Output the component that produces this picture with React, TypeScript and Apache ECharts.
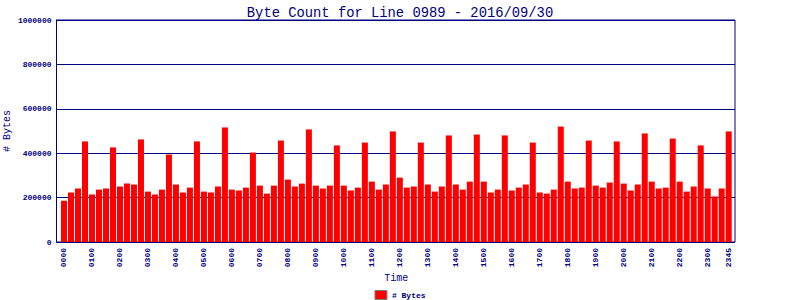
import React, { useEffect, useRef } from "react";
import * as echarts from "echarts";

const times: string[] = [];
for (let h = 0; h < 24; h++) {
  for (const m of ["00", "15", "30", "45"]) {
    times.push(String(h).padStart(2, "0") + m);
  }
}

const bytes: number[] = [
  186000, 223000, 241000, 453000, 214000, 236000, 241000, 426000,
  250000, 263000, 259000, 462000, 227000, 214000, 236000, 394000,
  259000, 223000, 245000, 453000, 227000, 223000, 250000, 516000,
  236000, 232000, 245000, 403000, 254000, 218000, 254000, 457000,
  281000, 250000, 263000, 507000, 254000, 241000, 254000, 435000,
  254000, 232000, 245000, 448000, 272000, 236000, 259000, 498000,
  290000, 245000, 250000, 448000, 259000, 227000, 250000, 480000,
  259000, 236000, 272000, 484000, 272000, 223000, 236000, 480000,
  232000, 245000, 259000, 448000, 223000, 218000, 236000, 520000,
  272000, 241000, 245000, 457000, 254000, 245000, 268000, 453000,
  263000, 232000, 259000, 489000, 272000, 241000, 245000, 466000,
  272000, 227000, 250000, 435000, 241000, 205000, 241000, 498000,
];

const yTicks = [0, 200000, 400000, 600000, 800000, 1000000];

const NAVY = "#000080";
const MONO = "'Liberation Mono', 'DejaVu Sans Mono', monospace";

export default function App() {
  const ref = useRef<HTMLDivElement>(null);
  useEffect(() => {
    if (!ref.current) return;
    const chart = echarts.init(ref.current, null, { renderer: "svg" });
    chart.setOption({
      animation: false,
      backgroundColor: "#ffffff",
      title: {
        text: "Byte Count for Line 0989 - 2016/09/30",
        left: "center",
        top: 1,
        textStyle: { color: NAVY, fontFamily: MONO, fontSize: 13.8, fontWeight: "normal" },
      },
      legend: {
        top: 290,
        left: "center",
        padding: 0,
        itemWidth: 12,
        itemHeight: 9,
        itemGap: 4,
        data: [{ name: "# Bytes", icon: "rect" }],
        itemStyle: { borderColor: "#808080", borderWidth: 1 },
        textStyle: { color: NAVY, fontFamily: MONO, fontSize: 8, fontWeight: "bold" },
      },
      grid: [
        {
          left: 56.5,
          right: 65,
          top: 20,
          bottom: 58,
          containLabel: false,
          outerBoundsMode: "none",
          show: true,
          borderColor: NAVY,
          borderWidth: 1,
          backgroundColor: "transparent",
        },
        {
          left: 60.5,
          width: 671.7,
          top: 20,
          bottom: 58,
          containLabel: false,
          outerBoundsMode: "none",
        },
      ],
      xAxis: [
        {
          gridIndex: 0,
          type: "value",
          min: 0,
          max: 1,
          show: false,
        },
        {
          gridIndex: 1,
          type: "category",
          data: times,
          name: "Time",
          nameLocation: "middle",
          nameGap: 31,
          nameMoveOverlap: false,
          nameTextStyle: { color: NAVY, fontFamily: MONO, fontSize: 10 },
          axisLine: { show: false },
          axisTick: { show: false },
          axisLabel: {
            interval: (i: number) => i % 4 === 0 || i === 95,
            rotate: 90,
            margin: 6,
            color: NAVY,
            fontFamily: MONO,
            fontSize: 8,
            fontWeight: "bold",
          },
        },
      ],
      yAxis: [
        {
          gridIndex: 0,
          type: "value",
          min: 0,
          max: 1000000,
          interval: 200000,
          name: "# Bytes",
          nameLocation: "middle",
          nameGap: 44,
          nameMoveOverlap: false,
          nameTextStyle: { color: NAVY, fontFamily: MONO, fontSize: 10 },
          axisLine: { show: true, lineStyle: { color: NAVY, width: 1 } },
          axisTick: { show: false },
          axisLabel: {
            margin: 5,
            color: NAVY,
            fontFamily: MONO,
            fontSize: 8,
            fontWeight: "bold",
            formatter: (v: number) => (yTicks.includes(v) ? String(v) : ""),
          },
          splitLine: { show: true, lineStyle: { color: NAVY, width: 1 } },
        },
        {
          gridIndex: 1,
          type: "value",
          min: 0,
          max: 1000000,
          show: false,
          splitLine: { show: false },
        },
      ],
      series: [
        {
          name: "# Bytes",
          type: "bar",
          xAxisIndex: 1,
          yAxisIndex: 1,
          data: bytes,
          barWidth: 6,
          itemStyle: { color: "#ff0000" },
          z: 3,
        },
      ],
    });
    return () => chart.dispose();
  }, []);
  return (
    <div
      ref={ref}
      style={{ position: "fixed", left: 0, top: 0, width: 800, height: 300 }}
    />
  );
}
